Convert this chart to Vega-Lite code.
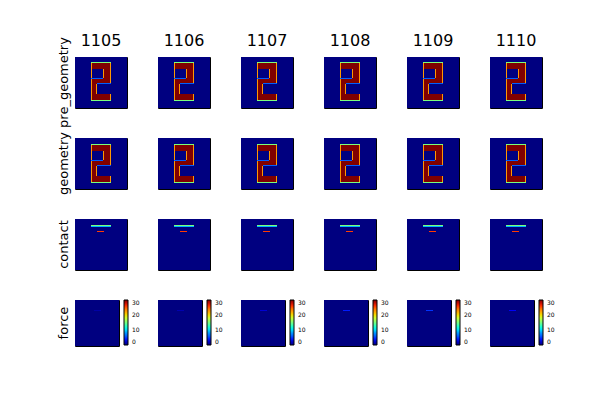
{
  "$schema": "https://vega.github.io/schema/vega-lite/v6.json",
  "background": "white",
  "padding": {"left": 57, "top": 32, "right": 5, "bottom": 5},
  "datasets": {
    "shapes": [
      {"panel": "pre", "x0": 0, "x1": 52, "y0": 0, "y1": 51, "v": 0},
      {"panel": "pre", "x0": 16, "x1": 36, "y0": 5, "y1": 12, "v": 1},
      {"panel": "pre", "x0": 28, "x1": 36, "y0": 12, "y1": 21, "v": 1},
      {"panel": "pre", "x0": 16, "x1": 36, "y0": 21, "y1": 27, "v": 1},
      {"panel": "pre", "x0": 16, "x1": 22, "y0": 27, "y1": 37, "v": 1},
      {"panel": "pre", "x0": 16, "x1": 36, "y0": 37, "y1": 44, "v": 1},
      {"panel": "pre", "x0": 16, "x1": 17, "y0": 5, "y1": 44, "v": 0.75},
      {"panel": "pre", "x0": 35, "x1": 36, "y0": 5, "y1": 27, "v": 0.75},
      {"panel": "pre", "x0": 35, "x1": 36, "y0": 37, "y1": 44, "v": 0.75},
      {"panel": "pre", "x0": 28, "x1": 29, "y0": 12, "y1": 21, "v": 0.75},
      {"panel": "pre", "x0": 16, "x1": 28, "y0": 21, "y1": 22, "v": 0.2},
      {"panel": "pre", "x0": 21, "x1": 22, "y0": 27, "y1": 37, "v": 0.75},
      {"panel": "pre", "x0": 22, "x1": 36, "y0": 26, "y1": 27, "v": 0.2},
      {"panel": "pre", "x0": 16, "x1": 36, "y0": 5, "y1": 6, "v": 0.5},
      {"panel": "pre", "x0": 16, "x1": 36, "y0": 43, "y1": 44, "v": 0.5},
      {"panel": "geo", "x0": 0, "x1": 52, "y0": 0, "y1": 51, "v": 0},
      {"panel": "geo", "x0": 16, "x1": 36, "y0": 6, "y1": 13, "v": 1},
      {"panel": "geo", "x0": 28, "x1": 36, "y0": 13, "y1": 22, "v": 1},
      {"panel": "geo", "x0": 16, "x1": 36, "y0": 22, "y1": 28, "v": 1},
      {"panel": "geo", "x0": 16, "x1": 22, "y0": 28, "y1": 38, "v": 1},
      {"panel": "geo", "x0": 16, "x1": 36, "y0": 38, "y1": 45, "v": 1},
      {"panel": "geo", "x0": 16, "x1": 17, "y0": 6, "y1": 45, "v": 0.75},
      {"panel": "geo", "x0": 35, "x1": 36, "y0": 6, "y1": 28, "v": 0.75},
      {"panel": "geo", "x0": 35, "x1": 36, "y0": 38, "y1": 45, "v": 0.75},
      {"panel": "geo", "x0": 28, "x1": 29, "y0": 13, "y1": 22, "v": 0.75},
      {"panel": "geo", "x0": 16, "x1": 28, "y0": 22, "y1": 23, "v": 0.2},
      {"panel": "geo", "x0": 21, "x1": 22, "y0": 28, "y1": 38, "v": 0.75},
      {"panel": "geo", "x0": 22, "x1": 36, "y0": 27, "y1": 28, "v": 0.2},
      {"panel": "geo", "x0": 16, "x1": 36, "y0": 6, "y1": 7, "v": 0.5},
      {"panel": "geo", "x0": 16, "x1": 36, "y0": 44, "y1": 45, "v": 0.5},
      {"panel": "contact", "x0": 0, "x1": 52, "y0": 0, "y1": 51, "v": 0},
      {"panel": "contact", "x0": 16, "x1": 36, "y0": 6, "y1": 7, "v": 0.5},
      {"panel": "contact", "x0": 16, "x1": 36, "y0": 7, "y1": 8, "v": 0.3},
      {"panel": "contact", "x0": 22, "x1": 29, "y0": 12, "y1": 13, "v": 0.86}
    ],
    "force": [
      {"col": 1105, "x0": 0, "x1": 44, "y0": 0, "y1": 46, "v": 0},
      {"col": 1105, "x0": 19, "x1": 26, "y0": 10, "y1": 11, "v": 1.2},
      {"col": 1106, "x0": 0, "x1": 44, "y0": 0, "y1": 46, "v": 0},
      {"col": 1106, "x0": 19, "x1": 26, "y0": 10, "y1": 11, "v": 1.5},
      {"col": 1107, "x0": 0, "x1": 44, "y0": 0, "y1": 46, "v": 0},
      {"col": 1107, "x0": 19, "x1": 26, "y0": 10, "y1": 11, "v": 2.5},
      {"col": 1108, "x0": 0, "x1": 44, "y0": 0, "y1": 46, "v": 0},
      {"col": 1108, "x0": 19, "x1": 26, "y0": 10, "y1": 11, "v": 4.0},
      {"col": 1109, "x0": 0, "x1": 44, "y0": 0, "y1": 46, "v": 0},
      {"col": 1109, "x0": 19, "x1": 26, "y0": 10, "y1": 11, "v": 4.5},
      {"col": 1110, "x0": 0, "x1": 44, "y0": 0, "y1": 46, "v": 0},
      {"col": 1110, "x0": 19, "x1": 26, "y0": 10, "y1": 11, "v": 3.5}
    ]
  },
  "columns": 6,
  "bounds": "flush",
  "spacing": {"row": 30, "column": 31},
  "resolve": {"scale": {"color": "independent", "x": "independent", "y": "independent"}, "legend": {"color": "independent"}},
  "concat": [
    {"width": 52, "height": 51, "data": {"name": "shapes"}, "transform": [{"filter": "datum.panel == 'pre'"}], "mark": "rect",
     "encoding": {"x": {"field": "x0", "type": "quantitative", "scale": {"domain": [0, 52]}, "axis": {"orient": "top", "translate": 0, "title": "1105", "labels": false, "ticks": false, "domain": false, "grid": false, "titleFontSize": 16, "titleFontWeight": "normal", "titleFont": "DejaVu Sans", "titleColor": "black", "titlePadding": 8}}, "x2": {"field": "x1"},
       "y": {"field": "y0", "type": "quantitative", "scale": {"domain": [0, 51], "reverse": true}, "axis": {"translate": 0, "title": "pre_geometry", "labels": false, "ticks": false, "domain": false, "grid": false, "titleFontSize": 13, "titleFontWeight": "normal", "titleFont": "DejaVu Sans", "titleColor": "black", "titlePadding": 4}}, "y2": {"field": "y1"},
       "color": {"field": "v", "type": "quantitative", "scale": {"domain": [0, 0.125, 0.25, 0.375, 0.5, 0.625, 0.75, 0.875, 1], "range": ["#000080", "#0000ff", "#0080ff", "#14ffe3", "#7bff7b", "#e3ff14", "#ff9800", "#ff2100", "#800000"]}, "legend": null}}},
    {"width": 52, "height": 51, "data": {"name": "shapes"}, "transform": [{"filter": "datum.panel == 'pre'"}], "mark": "rect",
     "encoding": {"x": {"field": "x0", "type": "quantitative", "scale": {"domain": [0, 52]}, "axis": {"orient": "top", "translate": 0, "title": "1106", "labels": false, "ticks": false, "domain": false, "grid": false, "titleFontSize": 16, "titleFontWeight": "normal", "titleFont": "DejaVu Sans", "titleColor": "black", "titlePadding": 8}}, "x2": {"field": "x1"},
       "y": {"field": "y0", "type": "quantitative", "scale": {"domain": [0, 51], "reverse": true}, "axis": null}, "y2": {"field": "y1"},
       "color": {"field": "v", "type": "quantitative", "scale": {"domain": [0, 0.125, 0.25, 0.375, 0.5, 0.625, 0.75, 0.875, 1], "range": ["#000080", "#0000ff", "#0080ff", "#14ffe3", "#7bff7b", "#e3ff14", "#ff9800", "#ff2100", "#800000"]}, "legend": null}}},
    {"width": 52, "height": 51, "data": {"name": "shapes"}, "transform": [{"filter": "datum.panel == 'pre'"}], "mark": "rect",
     "encoding": {"x": {"field": "x0", "type": "quantitative", "scale": {"domain": [0, 52]}, "axis": {"orient": "top", "translate": 0, "title": "1107", "labels": false, "ticks": false, "domain": false, "grid": false, "titleFontSize": 16, "titleFontWeight": "normal", "titleFont": "DejaVu Sans", "titleColor": "black", "titlePadding": 8}}, "x2": {"field": "x1"},
       "y": {"field": "y0", "type": "quantitative", "scale": {"domain": [0, 51], "reverse": true}, "axis": null}, "y2": {"field": "y1"},
       "color": {"field": "v", "type": "quantitative", "scale": {"domain": [0, 0.125, 0.25, 0.375, 0.5, 0.625, 0.75, 0.875, 1], "range": ["#000080", "#0000ff", "#0080ff", "#14ffe3", "#7bff7b", "#e3ff14", "#ff9800", "#ff2100", "#800000"]}, "legend": null}}},
    {"width": 52, "height": 51, "data": {"name": "shapes"}, "transform": [{"filter": "datum.panel == 'pre'"}], "mark": "rect",
     "encoding": {"x": {"field": "x0", "type": "quantitative", "scale": {"domain": [0, 52]}, "axis": {"orient": "top", "translate": 0, "title": "1108", "labels": false, "ticks": false, "domain": false, "grid": false, "titleFontSize": 16, "titleFontWeight": "normal", "titleFont": "DejaVu Sans", "titleColor": "black", "titlePadding": 8}}, "x2": {"field": "x1"},
       "y": {"field": "y0", "type": "quantitative", "scale": {"domain": [0, 51], "reverse": true}, "axis": null}, "y2": {"field": "y1"},
       "color": {"field": "v", "type": "quantitative", "scale": {"domain": [0, 0.125, 0.25, 0.375, 0.5, 0.625, 0.75, 0.875, 1], "range": ["#000080", "#0000ff", "#0080ff", "#14ffe3", "#7bff7b", "#e3ff14", "#ff9800", "#ff2100", "#800000"]}, "legend": null}}},
    {"width": 52, "height": 51, "data": {"name": "shapes"}, "transform": [{"filter": "datum.panel == 'pre'"}], "mark": "rect",
     "encoding": {"x": {"field": "x0", "type": "quantitative", "scale": {"domain": [0, 52]}, "axis": {"orient": "top", "translate": 0, "title": "1109", "labels": false, "ticks": false, "domain": false, "grid": false, "titleFontSize": 16, "titleFontWeight": "normal", "titleFont": "DejaVu Sans", "titleColor": "black", "titlePadding": 8}}, "x2": {"field": "x1"},
       "y": {"field": "y0", "type": "quantitative", "scale": {"domain": [0, 51], "reverse": true}, "axis": null}, "y2": {"field": "y1"},
       "color": {"field": "v", "type": "quantitative", "scale": {"domain": [0, 0.125, 0.25, 0.375, 0.5, 0.625, 0.75, 0.875, 1], "range": ["#000080", "#0000ff", "#0080ff", "#14ffe3", "#7bff7b", "#e3ff14", "#ff9800", "#ff2100", "#800000"]}, "legend": null}}},
    {"width": 52, "height": 51, "data": {"name": "shapes"}, "transform": [{"filter": "datum.panel == 'pre'"}], "mark": "rect",
     "encoding": {"x": {"field": "x0", "type": "quantitative", "scale": {"domain": [0, 52]}, "axis": {"orient": "top", "translate": 0, "title": "1110", "labels": false, "ticks": false, "domain": false, "grid": false, "titleFontSize": 16, "titleFontWeight": "normal", "titleFont": "DejaVu Sans", "titleColor": "black", "titlePadding": 8}}, "x2": {"field": "x1"},
       "y": {"field": "y0", "type": "quantitative", "scale": {"domain": [0, 51], "reverse": true}, "axis": null}, "y2": {"field": "y1"},
       "color": {"field": "v", "type": "quantitative", "scale": {"domain": [0, 0.125, 0.25, 0.375, 0.5, 0.625, 0.75, 0.875, 1], "range": ["#000080", "#0000ff", "#0080ff", "#14ffe3", "#7bff7b", "#e3ff14", "#ff9800", "#ff2100", "#800000"]}, "legend": null}}},

    {"width": 52, "height": 51, "data": {"name": "shapes"}, "transform": [{"filter": "datum.panel == 'geo'"}], "mark": "rect",
     "encoding": {"x": {"field": "x0", "type": "quantitative", "scale": {"domain": [0, 52]}, "axis": null}, "x2": {"field": "x1"},
       "y": {"field": "y0", "type": "quantitative", "scale": {"domain": [0, 51], "reverse": true}, "axis": {"translate": 0, "title": "geometry", "labels": false, "ticks": false, "domain": false, "grid": false, "titleFontSize": 13, "titleFontWeight": "normal", "titleFont": "DejaVu Sans", "titleColor": "black", "titlePadding": 4}}, "y2": {"field": "y1"},
       "color": {"field": "v", "type": "quantitative", "scale": {"domain": [0, 0.125, 0.25, 0.375, 0.5, 0.625, 0.75, 0.875, 1], "range": ["#000080", "#0000ff", "#0080ff", "#14ffe3", "#7bff7b", "#e3ff14", "#ff9800", "#ff2100", "#800000"]}, "legend": null}}},
    {"width": 52, "height": 51, "data": {"name": "shapes"}, "transform": [{"filter": "datum.panel == 'geo'"}], "mark": "rect",
     "encoding": {"x": {"field": "x0", "type": "quantitative", "scale": {"domain": [0, 52]}, "axis": null}, "x2": {"field": "x1"},
       "y": {"field": "y0", "type": "quantitative", "scale": {"domain": [0, 51], "reverse": true}, "axis": null}, "y2": {"field": "y1"},
       "color": {"field": "v", "type": "quantitative", "scale": {"domain": [0, 0.125, 0.25, 0.375, 0.5, 0.625, 0.75, 0.875, 1], "range": ["#000080", "#0000ff", "#0080ff", "#14ffe3", "#7bff7b", "#e3ff14", "#ff9800", "#ff2100", "#800000"]}, "legend": null}}},
    {"width": 52, "height": 51, "data": {"name": "shapes"}, "transform": [{"filter": "datum.panel == 'geo'"}], "mark": "rect",
     "encoding": {"x": {"field": "x0", "type": "quantitative", "scale": {"domain": [0, 52]}, "axis": null}, "x2": {"field": "x1"},
       "y": {"field": "y0", "type": "quantitative", "scale": {"domain": [0, 51], "reverse": true}, "axis": null}, "y2": {"field": "y1"},
       "color": {"field": "v", "type": "quantitative", "scale": {"domain": [0, 0.125, 0.25, 0.375, 0.5, 0.625, 0.75, 0.875, 1], "range": ["#000080", "#0000ff", "#0080ff", "#14ffe3", "#7bff7b", "#e3ff14", "#ff9800", "#ff2100", "#800000"]}, "legend": null}}},
    {"width": 52, "height": 51, "data": {"name": "shapes"}, "transform": [{"filter": "datum.panel == 'geo'"}], "mark": "rect",
     "encoding": {"x": {"field": "x0", "type": "quantitative", "scale": {"domain": [0, 52]}, "axis": null}, "x2": {"field": "x1"},
       "y": {"field": "y0", "type": "quantitative", "scale": {"domain": [0, 51], "reverse": true}, "axis": null}, "y2": {"field": "y1"},
       "color": {"field": "v", "type": "quantitative", "scale": {"domain": [0, 0.125, 0.25, 0.375, 0.5, 0.625, 0.75, 0.875, 1], "range": ["#000080", "#0000ff", "#0080ff", "#14ffe3", "#7bff7b", "#e3ff14", "#ff9800", "#ff2100", "#800000"]}, "legend": null}}},
    {"width": 52, "height": 51, "data": {"name": "shapes"}, "transform": [{"filter": "datum.panel == 'geo'"}], "mark": "rect",
     "encoding": {"x": {"field": "x0", "type": "quantitative", "scale": {"domain": [0, 52]}, "axis": null}, "x2": {"field": "x1"},
       "y": {"field": "y0", "type": "quantitative", "scale": {"domain": [0, 51], "reverse": true}, "axis": null}, "y2": {"field": "y1"},
       "color": {"field": "v", "type": "quantitative", "scale": {"domain": [0, 0.125, 0.25, 0.375, 0.5, 0.625, 0.75, 0.875, 1], "range": ["#000080", "#0000ff", "#0080ff", "#14ffe3", "#7bff7b", "#e3ff14", "#ff9800", "#ff2100", "#800000"]}, "legend": null}}},
    {"width": 52, "height": 51, "data": {"name": "shapes"}, "transform": [{"filter": "datum.panel == 'geo'"}], "mark": "rect",
     "encoding": {"x": {"field": "x0", "type": "quantitative", "scale": {"domain": [0, 52]}, "axis": null}, "x2": {"field": "x1"},
       "y": {"field": "y0", "type": "quantitative", "scale": {"domain": [0, 51], "reverse": true}, "axis": null}, "y2": {"field": "y1"},
       "color": {"field": "v", "type": "quantitative", "scale": {"domain": [0, 0.125, 0.25, 0.375, 0.5, 0.625, 0.75, 0.875, 1], "range": ["#000080", "#0000ff", "#0080ff", "#14ffe3", "#7bff7b", "#e3ff14", "#ff9800", "#ff2100", "#800000"]}, "legend": null}}},

    {"width": 52, "height": 51, "data": {"name": "shapes"}, "transform": [{"filter": "datum.panel == 'contact'"}], "mark": "rect",
     "encoding": {"x": {"field": "x0", "type": "quantitative", "scale": {"domain": [0, 52]}, "axis": null}, "x2": {"field": "x1"},
       "y": {"field": "y0", "type": "quantitative", "scale": {"domain": [0, 51], "reverse": true}, "axis": {"translate": 0, "title": "contact", "labels": false, "ticks": false, "domain": false, "grid": false, "titleFontSize": 13, "titleFontWeight": "normal", "titleFont": "DejaVu Sans", "titleColor": "black", "titlePadding": 4}}, "y2": {"field": "y1"},
       "color": {"field": "v", "type": "quantitative", "scale": {"domain": [0, 0.125, 0.25, 0.375, 0.5, 0.625, 0.75, 0.875, 1], "range": ["#000080", "#0000ff", "#0080ff", "#14ffe3", "#7bff7b", "#e3ff14", "#ff9800", "#ff2100", "#800000"]}, "legend": null}}},
    {"width": 52, "height": 51, "data": {"name": "shapes"}, "transform": [{"filter": "datum.panel == 'contact'"}], "mark": "rect",
     "encoding": {"x": {"field": "x0", "type": "quantitative", "scale": {"domain": [0, 52]}, "axis": null}, "x2": {"field": "x1"},
       "y": {"field": "y0", "type": "quantitative", "scale": {"domain": [0, 51], "reverse": true}, "axis": null}, "y2": {"field": "y1"},
       "color": {"field": "v", "type": "quantitative", "scale": {"domain": [0, 0.125, 0.25, 0.375, 0.5, 0.625, 0.75, 0.875, 1], "range": ["#000080", "#0000ff", "#0080ff", "#14ffe3", "#7bff7b", "#e3ff14", "#ff9800", "#ff2100", "#800000"]}, "legend": null}}},
    {"width": 52, "height": 51, "data": {"name": "shapes"}, "transform": [{"filter": "datum.panel == 'contact'"}], "mark": "rect",
     "encoding": {"x": {"field": "x0", "type": "quantitative", "scale": {"domain": [0, 52]}, "axis": null}, "x2": {"field": "x1"},
       "y": {"field": "y0", "type": "quantitative", "scale": {"domain": [0, 51], "reverse": true}, "axis": null}, "y2": {"field": "y1"},
       "color": {"field": "v", "type": "quantitative", "scale": {"domain": [0, 0.125, 0.25, 0.375, 0.5, 0.625, 0.75, 0.875, 1], "range": ["#000080", "#0000ff", "#0080ff", "#14ffe3", "#7bff7b", "#e3ff14", "#ff9800", "#ff2100", "#800000"]}, "legend": null}}},
    {"width": 52, "height": 51, "data": {"name": "shapes"}, "transform": [{"filter": "datum.panel == 'contact'"}], "mark": "rect",
     "encoding": {"x": {"field": "x0", "type": "quantitative", "scale": {"domain": [0, 52]}, "axis": null}, "x2": {"field": "x1"},
       "y": {"field": "y0", "type": "quantitative", "scale": {"domain": [0, 51], "reverse": true}, "axis": null}, "y2": {"field": "y1"},
       "color": {"field": "v", "type": "quantitative", "scale": {"domain": [0, 0.125, 0.25, 0.375, 0.5, 0.625, 0.75, 0.875, 1], "range": ["#000080", "#0000ff", "#0080ff", "#14ffe3", "#7bff7b", "#e3ff14", "#ff9800", "#ff2100", "#800000"]}, "legend": null}}},
    {"width": 52, "height": 51, "data": {"name": "shapes"}, "transform": [{"filter": "datum.panel == 'contact'"}], "mark": "rect",
     "encoding": {"x": {"field": "x0", "type": "quantitative", "scale": {"domain": [0, 52]}, "axis": null}, "x2": {"field": "x1"},
       "y": {"field": "y0", "type": "quantitative", "scale": {"domain": [0, 51], "reverse": true}, "axis": null}, "y2": {"field": "y1"},
       "color": {"field": "v", "type": "quantitative", "scale": {"domain": [0, 0.125, 0.25, 0.375, 0.5, 0.625, 0.75, 0.875, 1], "range": ["#000080", "#0000ff", "#0080ff", "#14ffe3", "#7bff7b", "#e3ff14", "#ff9800", "#ff2100", "#800000"]}, "legend": null}}},
    {"width": 52, "height": 51, "data": {"name": "shapes"}, "transform": [{"filter": "datum.panel == 'contact'"}], "mark": "rect",
     "encoding": {"x": {"field": "x0", "type": "quantitative", "scale": {"domain": [0, 52]}, "axis": null}, "x2": {"field": "x1"},
       "y": {"field": "y0", "type": "quantitative", "scale": {"domain": [0, 51], "reverse": true}, "axis": null}, "y2": {"field": "y1"},
       "color": {"field": "v", "type": "quantitative", "scale": {"domain": [0, 0.125, 0.25, 0.375, 0.5, 0.625, 0.75, 0.875, 1], "range": ["#000080", "#0000ff", "#0080ff", "#14ffe3", "#7bff7b", "#e3ff14", "#ff9800", "#ff2100", "#800000"]}, "legend": null}}},

    {"width": 44, "height": 46, "data": {"name": "force"}, "transform": [{"filter": "datum.col == 1105"}], "mark": "rect",
     "encoding": {"x": {"field": "x0", "type": "quantitative", "scale": {"domain": [0, 44]}, "axis": null}, "x2": {"field": "x1"},
       "y": {"field": "y0", "type": "quantitative", "scale": {"domain": [0, 46], "reverse": true}, "axis": {"translate": 0, "title": "force", "labels": false, "ticks": false, "domain": false, "grid": false, "titleFontSize": 13, "titleFontWeight": "normal", "titleFont": "DejaVu Sans", "titleColor": "black", "titlePadding": 4}}, "y2": {"field": "y1"},
       "color": {"field": "v", "type": "quantitative", "scale": {"domain": [0, 3.75, 7.5, 11.25, 15, 18.75, 22.5, 26.25, 30], "range": ["#000080", "#0000ff", "#0080ff", "#14ffe3", "#7bff7b", "#e3ff14", "#ff9800", "#ff2100", "#800000"]},
         "legend": {"type": "gradient", "orient": "right", "direction": "vertical", "offset": 5, "padding": 0, "title": null, "gradientLength": 45, "gradientThickness": 4, "values": [0, 10, 20, 30], "labelFontSize": 6, "labelFont": "DejaVu Sans", "labelColor": "black", "labelOffset": 4, "labelOverlap": false, "gradientStrokeColor": "black", "gradientStrokeWidth": 1}}}},
    {"width": 44, "height": 46, "data": {"name": "force"}, "transform": [{"filter": "datum.col == 1106"}], "mark": "rect",
     "encoding": {"x": {"field": "x0", "type": "quantitative", "scale": {"domain": [0, 44]}, "axis": null}, "x2": {"field": "x1"},
       "y": {"field": "y0", "type": "quantitative", "scale": {"domain": [0, 46], "reverse": true}, "axis": null}, "y2": {"field": "y1"},
       "color": {"field": "v", "type": "quantitative", "scale": {"domain": [0, 3.75, 7.5, 11.25, 15, 18.75, 22.5, 26.25, 30], "range": ["#000080", "#0000ff", "#0080ff", "#14ffe3", "#7bff7b", "#e3ff14", "#ff9800", "#ff2100", "#800000"]},
         "legend": {"type": "gradient", "orient": "right", "direction": "vertical", "offset": 5, "padding": 0, "title": null, "gradientLength": 45, "gradientThickness": 4, "values": [0, 10, 20, 30], "labelFontSize": 6, "labelFont": "DejaVu Sans", "labelColor": "black", "labelOffset": 4, "labelOverlap": false, "gradientStrokeColor": "black", "gradientStrokeWidth": 1}}}},
    {"width": 44, "height": 46, "data": {"name": "force"}, "transform": [{"filter": "datum.col == 1107"}], "mark": "rect",
     "encoding": {"x": {"field": "x0", "type": "quantitative", "scale": {"domain": [0, 44]}, "axis": null}, "x2": {"field": "x1"},
       "y": {"field": "y0", "type": "quantitative", "scale": {"domain": [0, 46], "reverse": true}, "axis": null}, "y2": {"field": "y1"},
       "color": {"field": "v", "type": "quantitative", "scale": {"domain": [0, 3.75, 7.5, 11.25, 15, 18.75, 22.5, 26.25, 30], "range": ["#000080", "#0000ff", "#0080ff", "#14ffe3", "#7bff7b", "#e3ff14", "#ff9800", "#ff2100", "#800000"]},
         "legend": {"type": "gradient", "orient": "right", "direction": "vertical", "offset": 5, "padding": 0, "title": null, "gradientLength": 45, "gradientThickness": 4, "values": [0, 10, 20, 30], "labelFontSize": 6, "labelFont": "DejaVu Sans", "labelColor": "black", "labelOffset": 4, "labelOverlap": false, "gradientStrokeColor": "black", "gradientStrokeWidth": 1}}}},
    {"width": 44, "height": 46, "data": {"name": "force"}, "transform": [{"filter": "datum.col == 1108"}], "mark": "rect",
     "encoding": {"x": {"field": "x0", "type": "quantitative", "scale": {"domain": [0, 44]}, "axis": null}, "x2": {"field": "x1"},
       "y": {"field": "y0", "type": "quantitative", "scale": {"domain": [0, 46], "reverse": true}, "axis": null}, "y2": {"field": "y1"},
       "color": {"field": "v", "type": "quantitative", "scale": {"domain": [0, 3.75, 7.5, 11.25, 15, 18.75, 22.5, 26.25, 30], "range": ["#000080", "#0000ff", "#0080ff", "#14ffe3", "#7bff7b", "#e3ff14", "#ff9800", "#ff2100", "#800000"]},
         "legend": {"type": "gradient", "orient": "right", "direction": "vertical", "offset": 5, "padding": 0, "title": null, "gradientLength": 45, "gradientThickness": 4, "values": [0, 10, 20, 30], "labelFontSize": 6, "labelFont": "DejaVu Sans", "labelColor": "black", "labelOffset": 4, "labelOverlap": false, "gradientStrokeColor": "black", "gradientStrokeWidth": 1}}}},
    {"width": 44, "height": 46, "data": {"name": "force"}, "transform": [{"filter": "datum.col == 1109"}], "mark": "rect",
     "encoding": {"x": {"field": "x0", "type": "quantitative", "scale": {"domain": [0, 44]}, "axis": null}, "x2": {"field": "x1"},
       "y": {"field": "y0", "type": "quantitative", "scale": {"domain": [0, 46], "reverse": true}, "axis": null}, "y2": {"field": "y1"},
       "color": {"field": "v", "type": "quantitative", "scale": {"domain": [0, 3.75, 7.5, 11.25, 15, 18.75, 22.5, 26.25, 30], "range": ["#000080", "#0000ff", "#0080ff", "#14ffe3", "#7bff7b", "#e3ff14", "#ff9800", "#ff2100", "#800000"]},
         "legend": {"type": "gradient", "orient": "right", "direction": "vertical", "offset": 5, "padding": 0, "title": null, "gradientLength": 45, "gradientThickness": 4, "values": [0, 10, 20, 30], "labelFontSize": 6, "labelFont": "DejaVu Sans", "labelColor": "black", "labelOffset": 4, "labelOverlap": false, "gradientStrokeColor": "black", "gradientStrokeWidth": 1}}}},
    {"width": 44, "height": 46, "data": {"name": "force"}, "transform": [{"filter": "datum.col == 1110"}], "mark": "rect",
     "encoding": {"x": {"field": "x0", "type": "quantitative", "scale": {"domain": [0, 44]}, "axis": null}, "x2": {"field": "x1"},
       "y": {"field": "y0", "type": "quantitative", "scale": {"domain": [0, 46], "reverse": true}, "axis": null}, "y2": {"field": "y1"},
       "color": {"field": "v", "type": "quantitative", "scale": {"domain": [0, 3.75, 7.5, 11.25, 15, 18.75, 22.5, 26.25, 30], "range": ["#000080", "#0000ff", "#0080ff", "#14ffe3", "#7bff7b", "#e3ff14", "#ff9800", "#ff2100", "#800000"]},
         "legend": {"type": "gradient", "orient": "right", "direction": "vertical", "offset": 5, "padding": 0, "title": null, "gradientLength": 45, "gradientThickness": 4, "values": [0, 10, 20, 30], "labelFontSize": 6, "labelFont": "DejaVu Sans", "labelColor": "black", "labelOffset": 4, "labelOverlap": false, "gradientStrokeColor": "black", "gradientStrokeWidth": 1}}}}
  ],
  "config": {
    "view": {"stroke": "black", "strokeWidth": 1},
    "rect": {"strokeWidth": 0}
  }
}
